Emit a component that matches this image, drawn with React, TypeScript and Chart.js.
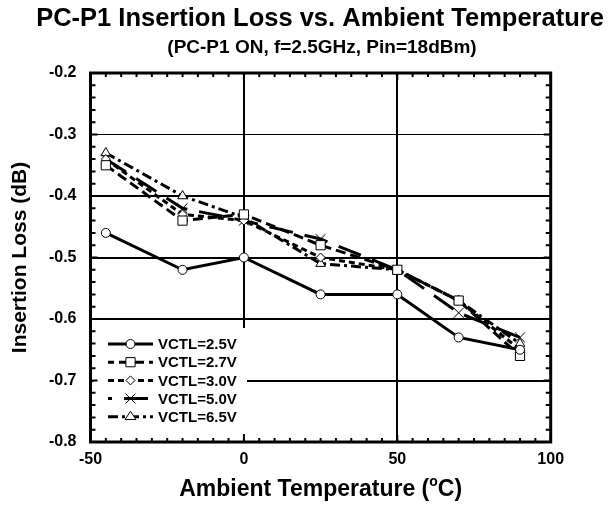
import React, { useEffect, useRef } from "react";
import { Chart, registerables } from "chart.js";

Chart.register(...registerables);

const temperatures = [-45, -20, 0, 25, 50, 70, 90];
const labels = ["VCTL=2.5V", "VCTL=2.7V", "VCTL=3.0V", "VCTL=5.0V", "VCTL=6.5V"];
const v25 = [-0.46, -0.52, -0.5, -0.56, -0.56, -0.63, -0.65];
const v27 = [-0.35, -0.44, -0.43, -0.48, -0.52, -0.57, -0.66];
const v30 = [-0.34, -0.43, -0.44, -0.5, -0.52, -0.57, -0.65];
const v50 = [-0.34, -0.42, -0.44, -0.47, -0.52, -0.59, -0.63];
const v65 = [-0.33, -0.4, -0.435, -0.51, -0.52, -0.57, -0.64];
const seriesValues = [v25, v27, v30, v50, v65];

const xMin = -50, xMax = 100, xStep = 50;
const yMin = -0.8, yMax = -0.2, yStep = 0.1;

const pointStyles = ["circle", "rect", "rectRot", "crossRot", "triangle"];
const pointRadii = [4.5, 6.5, 4.5, 7, 5.5];
const dashes: number[][] = [[], [10, 5], [6, 4], [24, 12], [10, 4, 3, 4]];
const legendDashOffsets = [0, 4, 0, 20, 0];
const lineWidths = [3, 3, 3, 3, 3];

const FONT = "'Liberation Sans', Arial, sans-serif";

function drawMarker(ctx: CanvasRenderingContext2D, style: string, x: number, y: number, r: number) {
  ctx.save();
  ctx.setLineDash([]);
  ctx.lineWidth = 1;
  ctx.strokeStyle = "#000";
  ctx.fillStyle = "#fff";
  ctx.beginPath();
  if (style === "circle") {
    ctx.arc(x, y, r, 0, Math.PI * 2);
    ctx.fill();
    ctx.stroke();
  } else if (style === "rect") {
    const s = Math.SQRT1_2 * r;
    ctx.rect(x - s, y - s, 2 * s, 2 * s);
    ctx.fill();
    ctx.stroke();
  } else if (style === "rectRot") {
    ctx.moveTo(x, y - r);
    ctx.lineTo(x + r, y);
    ctx.lineTo(x, y + r);
    ctx.lineTo(x - r, y);
    ctx.closePath();
    ctx.fill();
    ctx.stroke();
  } else if (style === "crossRot") {
    const s = Math.SQRT1_2 * r;
    ctx.moveTo(x - s, y - s);
    ctx.lineTo(x + s, y + s);
    ctx.moveTo(x + s, y - s);
    ctx.lineTo(x - s, y + s);
    ctx.stroke();
  } else if (style === "triangle") {
    const h = r * 1.5;
    const w = r * Math.sqrt(3) / 2 * 1.15;
    ctx.moveTo(x, y - h * 2 / 3);
    ctx.lineTo(x + w, y + h / 3);
    ctx.lineTo(x - w, y + h / 3);
    ctx.closePath();
    ctx.fill();
    ctx.stroke();
  }
  ctx.restore();
}

const decorPlugin = {
  id: "decor",
  afterDraw(chart: any) {
    const ctx: CanvasRenderingContext2D = chart.ctx;
    const { left, right, top, bottom } = chart.chartArea;
    const xs = chart.scales.x;
    const ys = chart.scales.y;
    ctx.save();

    // legend
    ctx.fillStyle = "#fff";
    ctx.fillRect(left + 3, 328, 247 - left - 3, 434 - 328);
    for (let i = 0; i < labels.length; i++) {
      const y = 344 + i * 18.2;
      ctx.save();
      ctx.strokeStyle = "#000";
      ctx.lineWidth = lineWidths[i];
      ctx.setLineDash(dashes[i]);
      ctx.lineDashOffset = legendDashOffsets[i];
      ctx.beginPath();
      ctx.moveTo(108, y);
      ctx.lineTo(153, y);
      ctx.stroke();
      ctx.restore();
      drawMarker(ctx, pointStyles[i], 130.5, y, pointRadii[i]);
      ctx.fillStyle = "#000";
      ctx.font = `bold 15px ${FONT}`;
      ctx.textAlign = "left";
      ctx.textBaseline = "middle";
      ctx.fillText(labels[i], 158, y + 1);
    }

    // frame
    ctx.strokeStyle = "#000";
    ctx.lineWidth = 3;
    ctx.strokeRect(left, top, right - left, bottom - top);

    // minor ticks
    ctx.lineWidth = 2;
    ctx.beginPath();
    for (let k = 0; k <= 30; k++) {
      const v = yMin + k * 0.02;
      const y = ys.getPixelForValue(v);
      const len = k % 5 === 0 ? 7 : 5;
      ctx.moveTo(left, y);
      ctx.lineTo(left + len, y);
      ctx.moveTo(right, y);
      ctx.lineTo(right - len, y);
    }
    for (let k = 0; k <= 30; k++) {
      const v = xMin + k * 5;
      const x = xs.getPixelForValue(v);
      const len = k % 10 === 0 ? 7 : 4;
      ctx.moveTo(x, top);
      ctx.lineTo(x, top + len);
      ctx.moveTo(x, bottom);
      ctx.lineTo(x, bottom - len);
    }
    ctx.stroke();

    // titles
    ctx.fillStyle = "#000";
    ctx.textAlign = "center";
    ctx.textBaseline = "middle";
    ctx.font = `bold 25.5px ${FONT}`;
    ctx.fillText("PC-P1 Insertion Loss vs. Ambient Temperature", 320, 19);
    ctx.font = `bold 19px ${FONT}`;
    ctx.fillText("(PC-P1 ON, f=2.5GHz, Pin=18dBm)", 322, 48);

    // x axis title with superscript
    const big = `bold 23px ${FONT}`;
    const supFont = `bold 14px ${FONT}`;
    const p1 = "Ambient Temperature (";
    const p3 = "C)";
    ctx.font = big;
    const w1 = ctx.measureText(p1).width;
    const w3 = ctx.measureText(p3).width;
    ctx.font = supFont;
    const w2 = ctx.measureText("o").width;
    const total = w1 + w2 + w3;
    let sx = (left + right) / 2 - total / 2;
    const ty = 490;
    ctx.textAlign = "left";
    ctx.font = big;
    ctx.fillText(p1, sx, ty);
    sx += w1;
    ctx.font = supFont;
    ctx.fillText("o", sx, ty - 8);
    sx += w2;
    ctx.font = big;
    ctx.fillText(p3, sx, ty);

    // y axis title
    ctx.save();
    ctx.translate(20, (top + bottom) / 2);
    ctx.rotate(-Math.PI / 2);
    ctx.textAlign = "center";
    ctx.font = `bold 21px ${FONT}`;
    ctx.fillText("Insertion Loss (dB)", 0, 0);
    ctx.restore();

    ctx.restore();
  },
};

export default function App() {
  const canvasRef = useRef<HTMLCanvasElement | null>(null);

  useEffect(() => {
    if (!canvasRef.current) return;
    const datasets = seriesValues.map((vals, i) => ({
      label: labels[i],
      data: temperatures.map((t, j) => ({ x: t, y: vals[j] })),
      borderColor: "#000",
      backgroundColor: "#fff",
      borderWidth: lineWidths[i],
      borderDash: dashes[i],
      pointStyle: pointStyles[i] as any,
      pointRadius: pointRadii[i],
      pointBorderWidth: 1,
      pointBorderColor: "#000",
      pointBackgroundColor: "#fff",
      tension: 0,
      fill: false,
    }));

    const chart = new Chart(canvasRef.current, {
      type: "line",
      data: { datasets },
      options: {
        animation: false,
        responsive: false,
        events: [],
        layout: { padding: { left: 30.5, right: 57.3, top: 73, bottom: 38 } },
        plugins: {
          legend: { display: false },
          title: { display: false },
          tooltip: { enabled: false },
        },
        scales: {
          x: {
            type: "linear",
            min: xMin,
            max: xMax,
            afterFit: (s: any) => { s.height = 30; },
            ticks: {
              stepSize: xStep,
              color: "#000",
              padding: 8,
              font: { family: FONT, size: 16, weight: "bold" },
            },
            grid: {
              drawTicks: false,
              color: "#000",
              lineWidth: (c: any) => {
                const v = c.tick ? c.tick.value : 0;
                return v === 0 || v === 50 ? 2 : 0;
              },
            },
            border: { display: false },
          },
          y: {
            type: "linear",
            min: yMin,
            max: yMax,
            afterFit: (s: any) => { s.width = 60; },
            ticks: {
              stepSize: yStep,
              color: "#000",
              padding: 14,
              font: { family: FONT, size: 16, weight: "bold" },
              callback: (v: any) => Number(v).toFixed(1),
            },
            grid: {
              drawTicks: false,
              color: "#000",
              lineWidth: (c: any) => {
                const v = c.tick ? Math.round(c.tick.value * 10) / 10 : 0;
                if (v === -0.2 || v === -0.8) return 0;
                if (v === -0.3) return 1;
                return 2;
              },
            },
            border: { display: false },
          },
        },
      },
      plugins: [decorPlugin],
    });
    return () => chart.destroy();
  }, []);

  return (
    <div style={{ position: "absolute", left: 0, top: 0, width: 608, height: 510, background: "#fff" }}>
      <canvas ref={canvasRef} width={608} height={510} style={{ display: "block" }} />
    </div>
  );
}
